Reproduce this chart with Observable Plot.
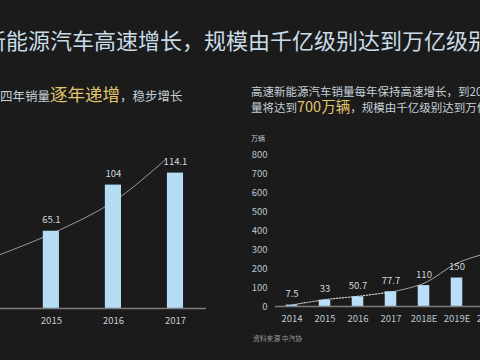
<!DOCTYPE html>
<html><head><meta charset="utf-8">
<script src="https://cdn.jsdelivr.net/npm/d3@7"></script>
<script src="https://cdn.jsdelivr.net/npm/@observablehq/plot@0.6"></script>
<style>
html,body{margin:0;padding:0;width:480px;height:360px;overflow:hidden;background:#1b1b1b;}
#stage{position:relative;width:480px;height:360px;overflow:hidden;font-family:"Noto Sans CJK SC",sans-serif;}
#left,#right,#overlay{position:absolute;}
#left{left:0;top:130px;}
#right{left:240px;top:130px;}
#overlay{left:0;top:0;pointer-events:none;}
#overlay text{font-family:"Noto Sans CJK SC",sans-serif;}
</style></head><body>
<div id="stage">
<div id="left"></div>
<div id="right"></div>
<svg id="overlay" width="480" height="360" xmlns="http://www.w3.org/2000/svg">
  <text x="-16" y="48.5" font-size="22" fill="#c9dbe6">新能源汽车高速增长，规模由千亿级别达到万亿级别</text>
  <text x="-12.5" y="101" font-size="12.5" fill="#c5d0d8">近四年销量<tspan font-size="17.5" fill="#e0c56c">逐年递增</tspan>，稳步增长</text>
  <text x="251" y="96" font-size="11.5" fill="#c5d0d8">高速新能源汽车销量每年保持高速增长，到2020年新能源汽车销</text>
  <text x="251" y="111.5" font-size="11.5" fill="#c5d0d8">量将达到<tspan font-size="14.5" fill="#e0c56c">700万辆</tspan>，规模由千亿级别达到万亿级别</text>
  <text x="251" y="141" font-size="7" fill="#b9c7d2">万辆</text>
  <text x="253" y="341" font-size="6.8" fill="#9a9a9a">资料来源 中汽协</text>
</svg>
</div>
<script>
// Left chart: recent four-year sales (万辆)
const leftYears = [2015, 2016, 2017];
const leftSales = [65.1, 104, 114.1];
const leftTickLabels = ["2015", "2016", "2017"];
const leftTrendYears = [2014, 2015, 2016, 2016.85];
const leftTrendValues = [42, 63, 90, 126];

// Right chart: sales and forecast (万辆)
const rightYears = [2014, 2015, 2016, 2017, 2018, 2019, 2020];
const rightSales = [7.5, 33, 50.7, 77.7, 110, 150, 700];
const rightTickLabels = ["2014", "2015", "2016", "2017", "2018E", "2019E", "2020E"];
const rightYTicks = [0, 100, 200, 300, 400, 500, 600, 700, 800];
const rightTrendValues = [8, 36, 54, 76, 122, 228, 285];

const font = '"Noto Sans CJK SC", sans-serif';

const leftData = leftYears.map((year, i) => ({year, value: leftSales[i], label: String(leftSales[i])}));
const leftTrend = leftTrendYears.map((year, i) => ({year, value: leftTrendValues[i]}));

const leftPlot = Plot.plot({
  width: 206, height: 210,
  marginTop: 0, marginBottom: 32, marginLeft: 0, marginRight: 0,
  style: {background: "transparent", color: "#c3cfd8", fontFamily: font, fontSize: "9.5px", maxWidth: "none"},
  x: {domain: [2014.18, 2017.5], ticks: leftYears, tickFormat: d => leftTickLabels[leftYears.indexOf(d)], tickSize: 0, tickPadding: 9, label: null},
  y: {domain: [0, 150], axis: null},
  marks: [
    Plot.line(leftTrend, {x: "year", y: "value", curve: "catmull-rom", stroke: "#9a9a9a", strokeWidth: 1}),
    Plot.rectY(leftData, {x1: d => d.year - 0.13, x2: d => d.year + 0.13, y: "value", fill: "#b5dcf5"}),
    Plot.ruleY([0], {stroke: "#7c7c7c", strokeWidth: 1.5}),
    Plot.text(leftData, {x: "year", y: "value", text: "label", dy: -11, fill: "#d2dadf", fontSize: 9.5})
  ]
});
document.getElementById("left").appendChild(leftPlot);

const rightData = rightYears.map((year, i) => ({year, value: rightSales[i], label: String(rightSales[i])}));
const rightTrend = rightYears.map((year, i) => ({year, value: rightTrendValues[i]}));
const dottedPart = rightTrend.slice(0, 4);
const solidPart = rightTrend.slice(3);

const rightPlot = Plot.plot({
  width: 266, height: 206,
  marginTop: 24, marginBottom: 30, marginLeft: 35, marginRight: 0,
  style: {background: "transparent", color: "#b9c7d2", fontFamily: font, fontSize: "9.5px", maxWidth: "none", overflow: "visible"},
  x: {domain: [2013.5, 2020.5], ticks: rightYears, tickFormat: d => rightTickLabels[rightYears.indexOf(d)], tickSize: 0, tickPadding: 9, label: null},
  y: {domain: [0, 800], ticks: rightYTicks, tickSize: 0, tickPadding: 8, label: null},
  marks: [
    Plot.line(dottedPart, {x: "year", y: "value", curve: "catmull-rom", stroke: "#c8c8c8", strokeWidth: 1.2, strokeDasharray: "1.5,1.5"}),
    Plot.line(solidPart, {x: "year", y: "value", curve: "catmull-rom", stroke: "#a8a8a8", strokeWidth: 1}),
    Plot.rectY(rightData, {x1: d => d.year - 0.175, x2: d => d.year + 0.175, y: "value", fill: "#b8def8"}),
    Plot.ruleY([0], {stroke: "#7c7c7c", strokeWidth: 1.5}),
    Plot.text(rightData, {x: "year", y: "value", text: "label", dy: -11, fill: "#d2dadf", fontSize: 9.5})
  ]
});
document.getElementById("right").appendChild(rightPlot);
</script>
</body></html>
